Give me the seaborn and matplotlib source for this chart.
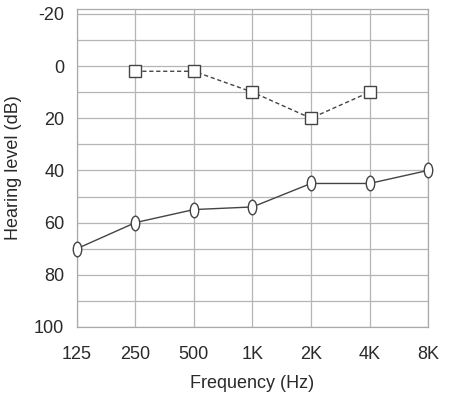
import numpy as np
import pandas as pd
import seaborn as sns
import matplotlib.pyplot as plt
from matplotlib.path import Path
from matplotlib.transforms import Affine2D

# audiogram values
freq_labels = ["125", "250", "500", "1K", "2K", "4K", "8K"]
freq_hz = [125, 250, 500, 1000, 2000, 4000, 8000]

dashed_freqs = [250, 500, 1000, 2000, 4000]
dashed_db = [2, 2, 10, 20, 10]

solid_freqs = [125, 250, 500, 1000, 2000, 4000, 8000]
solid_db = [70, 60, 55, 54, 45, 45, 40]

y_ticks = [-20, 0, 20, 40, 60, 80, 100]

sns.set_theme(style="whitegrid")
plt.rcParams['font.family'] = ['Liberation Sans', 'DejaVu Sans']
plt.rcParams['axes.unicode_minus'] = False

# octave position on the x axis
def octave(f):
    return np.log2(np.array(f) / 125.0)

dashed = pd.DataFrame({"x": octave(dashed_freqs), "db": dashed_db})
solid = pd.DataFrame({"x": octave(solid_freqs), "db": solid_db})

# tall ellipse marker
ellipse = Path.unit_circle().transformed(Affine2D().scale(0.58, 1.0))

fig = plt.figure(figsize=(4.52, 3.93), dpi=100)
ax = fig.add_axes([0.170, 0.168, 0.777, 0.810])

sns.lineplot(data=dashed, x="x", y="db", ax=ax, color="#444444", lw=1.0,
             linestyle=(0, (3, 2)), marker="s", markersize=9,
             markerfacecolor="white", markeredgecolor="#444444", markeredgewidth=1.0,
             clip_on=False, zorder=5)
sns.lineplot(data=solid, x="x", y="db", ax=ax, color="#444444", lw=1.0,
             marker=ellipse, markersize=10.5,
             markerfacecolor="white", markeredgecolor="#444444", markeredgewidth=1.0,
             clip_on=False, zorder=5)

ax.set_xlim(0, 6)
ax.set_ylim(100, -22)
ax.set_xticks(octave(freq_hz))
ax.set_xticklabels(freq_labels)
ax.set_yticks(y_ticks)
ax.set_yticks(np.arange(-10, 100, 20), minor=True)
ax.grid(True, which="both", color="#b5b5b5", lw=0.9)
ax.tick_params(axis="both", which="both", length=0, labelsize=13, colors="#2a2a2a")
ax.tick_params(axis="x", pad=14)
ax.tick_params(axis="y", pad=9)

for s in ax.spines.values():
    s.set_color("#aaaaaa")
    s.set_linewidth(0.9)

ax.set_xlabel("Frequency (Hz)", fontsize=13, color="#2a2a2a", labelpad=8)
ax.set_ylabel("Hearing level (dB)", fontsize=13, color="#2a2a2a", labelpad=9)

fig.savefig("out.png", dpi=100, facecolor="white")
